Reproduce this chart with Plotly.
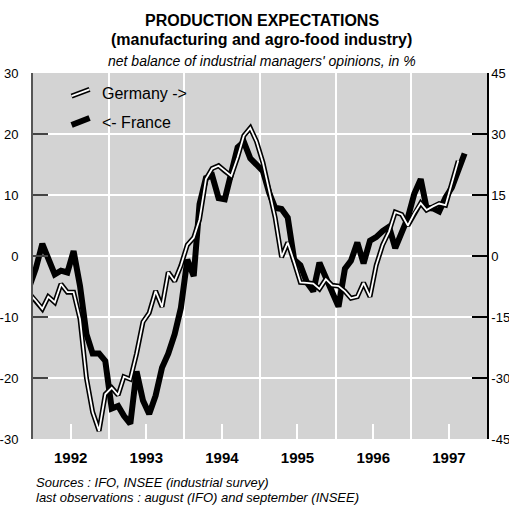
import pandas as pd
import plotly.graph_objects as go

# monthly observations, Dec 1991 .. Sep 1997 (plotted mid-month)
months = pd.date_range("1991-12-01", "1997-09-01", freq="MS") + pd.Timedelta(days=14)

# France (INSEE), left axis, Dec 1991 .. Sep 1997
france = [
    -5.0,
    -2.0, 2.0, -0.5, -3.0, -2.4, -2.7, 0.8, -4.9, -12.8, -16.0, -16.0, -17.2,   # 1992
    -25.0, -24.6, -26.2, -27.5, -18.9, -23.7, -25.9, -22.9, -18.3, -16.0, -12.8, -8.5,  # 1993
    -0.6, -3.3, 8.5, 12.8, 13.2, 9.5, 9.3, 13.3, 17.8, 18.7, 16.0, 15.0,   # 1994
    13.9, 10.3, 7.9, 7.7, 6.3, -0.6, -1.5, -4.3, -5.8, -1.1, -3.6, -5.5,   # 1995
    -8.3, -2.1, -0.8, 2.2, -1.2, 2.5, 3.1, 4.1, 4.8, 1.3, 4.2, 6.3,        # 1996
    10.2, 12.6, 7.9, 7.8, 7.3, 9.6, 11.2, 14.2, 16.8,                      # 1997
]

# Germany (IFO), right axis, Dec 1991 .. Aug 1997
germany = [
    -9.3,
    -11.0, -13.0, -10.0, -11.4, -6.9, -8.9, -8.9, -15.5, -30.0, -38.4, -43.0, -34.0,  # 1992
    -32.4, -34.2, -29.7, -30.3, -24.0, -16.2, -14.0, -8.6, -12.5, -4.0, -6.2, -2.4,   # 1993
    2.7, 4.5, 9.0, 18.9, 21.5, 22.2, 20.9, 19.7, 24.3, 29.6, 31.5, 28.2,   # 1994
    23.0, 16.2, 9.5, -0.3, 3.3, -1.5, -6.5, -6.6, -6.8, -8.1, -5.7, -7.2,  # 1995
    -7.4, -8.7, -10.4, -10.0, -6.6, -10.0, -2.3, 2.7, 6.0, 10.8, 10.2, 7.5, # 1996
    10.5, 13.0, 11.3, 12.2, 12.9, 12.5, 17.7, 23.4,                         # 1997
]

years = ["1992", "1993", "1994", "1995", "1996", "1997"]
left_ticks = [-30, -20, -10, 0, 10, 20, 30]
right_ticks = [-45, -30, -15, 0, 15, 30, 45]

FONT = "Liberation Sans, Arial, sans-serif"

fig = go.Figure()
fig.add_trace(go.Scatter(x=months[:len(france)], y=france, mode="lines",
                         line=dict(color="black", width=6), yaxis="y",
                         showlegend=False, hoverinfo="skip"))
fig.add_trace(go.Scatter(x=months[:len(germany)], y=germany, mode="lines",
                         line=dict(color="black", width=5), yaxis="y2",
                         showlegend=False, hoverinfo="skip"))
fig.add_trace(go.Scatter(x=months[:len(germany)], y=germany, mode="lines",
                         line=dict(color="white", width=1.8), yaxis="y2",
                         showlegend=False, hoverinfo="skip"))

year_mid = [f"{y}-07-01" for y in years]
year_start = [f"{int(y)}-01-01" for y in years] + ["1998-01-01"]

fig.update_layout(
    width=509, height=508,
    margin=dict(l=33, r=22, t=73, b=69, autoexpand=False),
    paper_bgcolor="white",
    plot_bgcolor="#d3d3d3",
    font=dict(family=FONT, color="black", size=13),
    showlegend=False,
    xaxis=dict(
        type="date", range=["1992-01-01", "1998-01-01"], automargin=False,
        tickvals=year_mid, ticktext=years,
        ticks="inside", ticklen=15, tickwidth=1.5, tickcolor="white",
        tickfont=dict(size=15, weight="bold"),
        ticklabelstandoff=8,
        showgrid=False, zeroline=False, showline=False,
        minor=dict(tickvals=year_start, showgrid=True, gridcolor="white",
                   gridwidth=1.5, ticks=""),
    ),
    yaxis=dict(
        range=[-30, 30], tickvals=left_ticks, automargin=False,
        ticktext=[str(v) for v in left_ticks],
        ticks="inside", ticklen=15, tickwidth=1.5, tickcolor="#444444",
        showline=True, linecolor="#555555", linewidth=2,
        showgrid=True, gridcolor="white", gridwidth=1.5,
        zeroline=False, ticklabelstandoff=10,
        tickfont=dict(size=13),
    ),
    yaxis2=dict(
        range=[-45, 45], tickvals=right_ticks, overlaying="y", side="right",
        ticktext=[str(v) for v in right_ticks], automargin=False,
        ticks="inside", ticklen=15, tickwidth=1.5, tickcolor="black",
        showline=True, linecolor="black", linewidth=1.5,
        showgrid=False, zeroline=False, ticklabelstandoff=0,
        tickfont=dict(size=13),
    ),
)

# manual legend (slanted symbols)
fig.add_shape(type="line", xref="paper", yref="paper",
              x0=0.085, y0=0.937, x1=0.1246, y1=0.9555,
              line=dict(color="black", width=5))
fig.add_shape(type="line", xref="paper", yref="paper",
              x0=0.085, y0=0.937, x1=0.1246, y1=0.9555,
              line=dict(color="white", width=1.8))
fig.add_shape(type="line", xref="paper", yref="paper",
              x0=0.085, y0=0.858, x1=0.1246, y1=0.877,
              line=dict(color="black", width=6))
fig.add_annotation(xref="paper", yref="paper", x=0.1466, y=0.945,
                   text="Germany ->", showarrow=False, xanchor="left",
                   yanchor="middle", font=dict(size=16))
fig.add_annotation(xref="paper", yref="paper", x=0.1466, y=0.866,
                   text="<- France", showarrow=False, xanchor="left",
                   yanchor="middle", font=dict(size=16))

# titles
fig.add_annotation(xref="paper", yref="paper", x=0.504, y=1.1448,
                   text="<b>PRODUCTION EXPECTATIONS</b>", showarrow=False,
                   xanchor="center", yanchor="middle", font=dict(size=16))
fig.add_annotation(xref="paper", yref="paper", x=0.504, y=1.0902,
                   text="<b>(manufacturing and agro-food industry)</b>", showarrow=False,
                   xanchor="center", yanchor="middle", font=dict(size=16))
fig.add_annotation(xref="paper", yref="paper", x=0.504, y=1.0328,
                   text="<i>net balance of industrial managers' opinions, in %</i>",
                   showarrow=False, xanchor="center", yanchor="middle",
                   font=dict(size=14))

# footnotes
fig.add_annotation(xref="paper", yref="paper", x=0.0033, y=-0.1175,
                   text="<i>Sources : IFO, INSEE (industrial survey)</i>",
                   showarrow=False, xanchor="left", yanchor="middle",
                   font=dict(size=13))
fig.add_annotation(xref="paper", yref="paper", x=0.0033, y=-0.161,
                   text="<i>last observations : august (IFO) and september (INSEE)</i>",
                   showarrow=False, xanchor="left", yanchor="middle",
                   font=dict(size=13))

fig.write_html("out.html", config={"displayModeBar": False},
               post_script="document.body.style.margin='0';document.body.style.overflow='hidden';")
